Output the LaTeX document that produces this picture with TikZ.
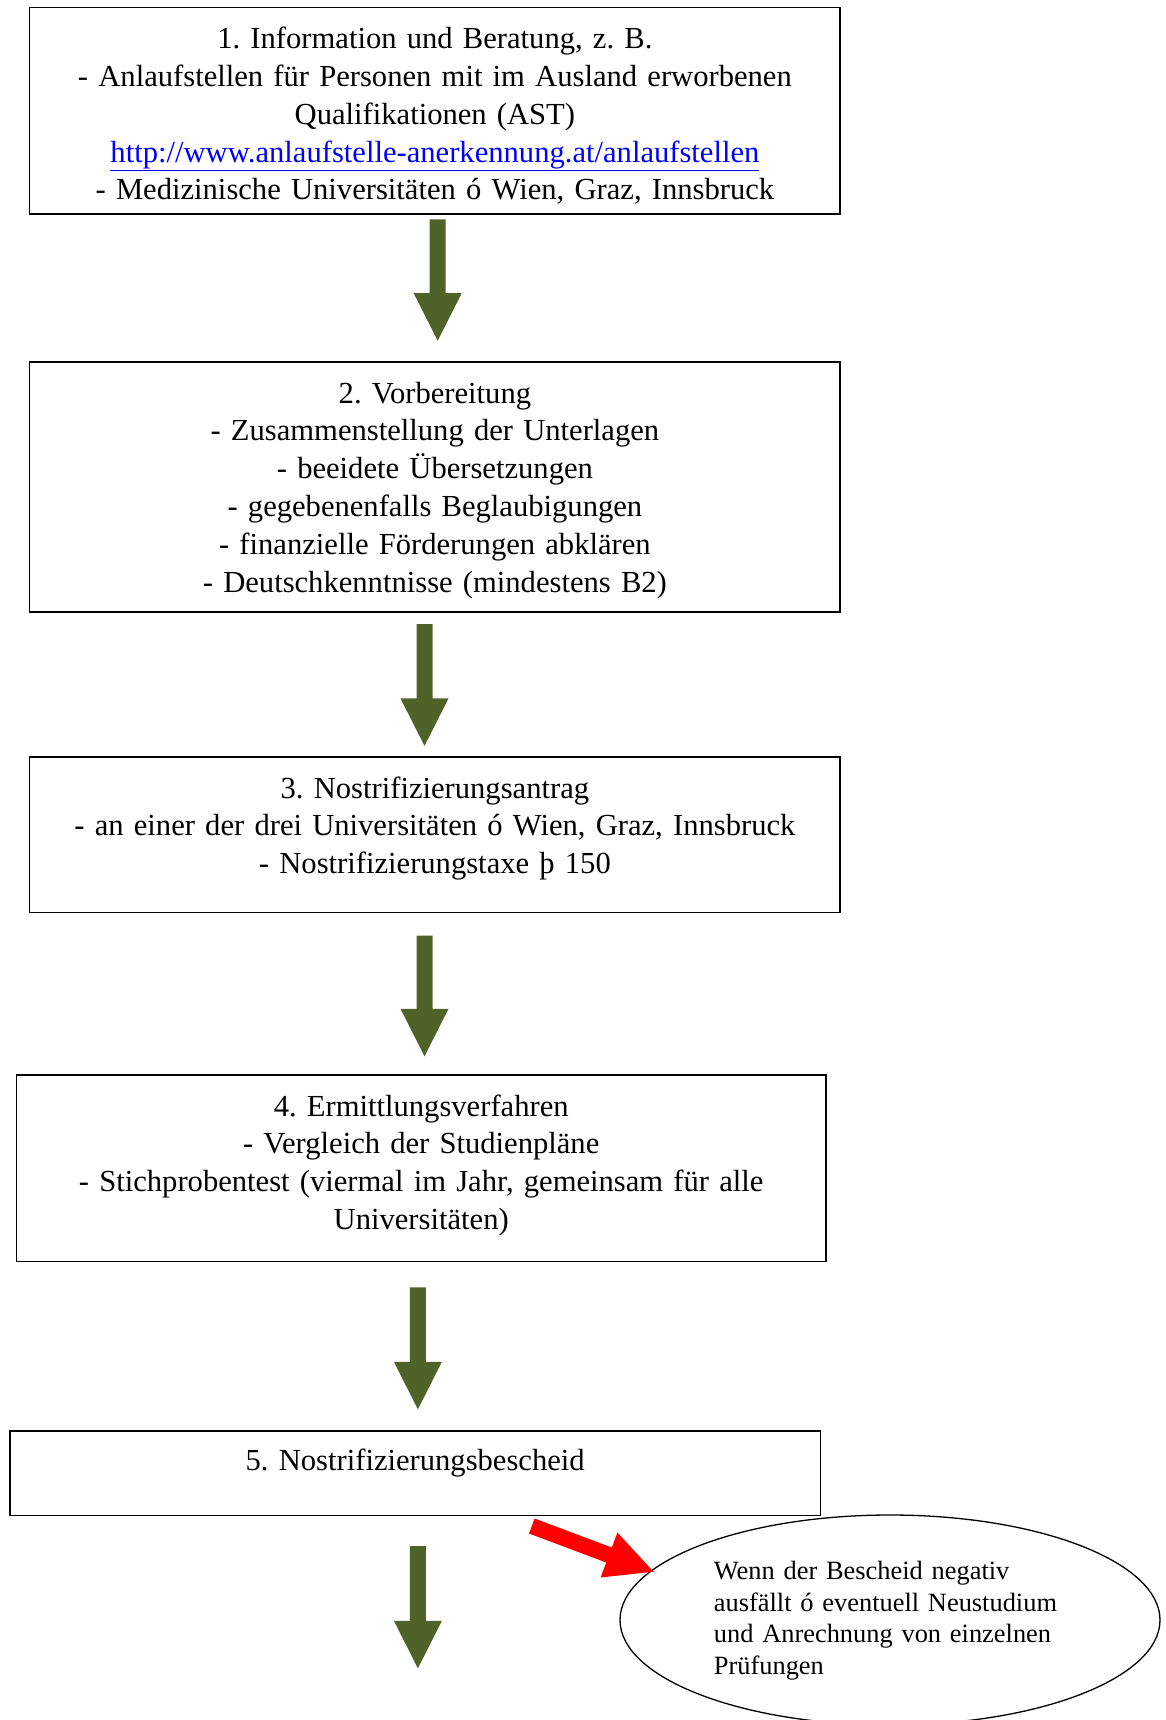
\documentclass[tikz,border=0pt]{standalone}
\usepackage{fontspec}
\setmainfont{Liberation Serif}
\usetikzlibrary{calc,shapes.geometric}
\definecolor{arrowgreen}{HTML}{4F6228}
\definecolor{linkblue}{HTML}{0000FF}
\definecolor{alertred}{HTML}{FF0000}
\frenchspacing
\newcommand\blockarrow[3]{%
  \coordinate (hb) at ($(#2)!47.5pt!(#1)$);
  \fill[#3] ($(#1)!8pt!90:(#2)$) -- ($(hb)!8pt!90:(#2)$) -- ($(hb)!24pt!90:(#2)$)
    -- (#2) -- ($(hb)!24pt!-90:(#2)$) -- ($(hb)!8pt!-90:(#2)$) -- ($(#1)!8pt!-90:(#2)$) -- cycle;
}
\tikzset{
  box/.style={draw=black, line width=1.6pt, rectangle, inner sep=0pt},
  txt/.style={font=\fontsize{30.6pt}{37.8pt}\selectfont\frenchspacing, align=center, text width=805pt, inner sep=0pt, anchor=base},
  etxt/.style={font=\fontsize{26.4pt}{31.6pt}\selectfont\frenchspacing, align=left, text width=360pt, inner sep=0pt, anchor=base west},
}
\begin{document}
\begin{tikzpicture}[x=1pt,y=-1pt]
\useasboundingbox (0,0) rectangle (1166,1720);
\fill[white] (0,0) rectangle (1166,1720);

% boxes
\node[box, minimum width=810.6pt, minimum height=206.2pt] (b1) at (434.9,110.8) {};
\node[box, minimum width=810.6pt, minimum height=250.1pt] (b2) at (434.9,487.0) {};
\node[box, minimum width=810.6pt, minimum height=155.7pt] (b3) at (434.9,834.8) {};
\node[box, minimum width=809.5pt, minimum height=186.4pt] (b4) at (421.2,1168.2) {};
\node[box, minimum width=810.6pt, minimum height=84.8pt] (b5) at (415.2,1473.1) {};

% texts
\node[txt] (t1) at (434.9,48.7) {1. Information und Beratung, z. B.\\
- Anlaufstellen für Personen mit im Ausland erworbenen\\
Qualifikationen (AST)\\
{\color{linkblue}\underline{http://www.anlaufstelle-anerkennung.at/anlaufstellen}}\\
- Medizinische Universitäten ó Wien, Graz, Innsbruck};
\node[txt] (t2) at (434.9,403.0) {2. Vorbereitung\\
- Zusammenstellung der Unterlagen\\
- beeidete Übersetzungen\\
- gegebenenfalls Beglaubigungen\\
- finanzielle Förderungen abklären\\
- Deutschkenntnisse (mindestens B2)};
\node[txt] (t3) at (434.9,798.0) {3. Nostrifizierungsantrag\\
- an einer der drei Universitäten ó Wien, Graz, Innsbruck\\
- Nostrifizierungstaxe þ 150};
\node[txt] (t4) at (421.2,1116.0) {4. Ermittlungsverfahren\\
- Vergleich der Studienpläne\\
- Stichprobentest (viermal im Jahr, gemeinsam für alle\\
Universitäten)};
\node[txt] (t5) at (415.2,1470.5) {5. Nostrifizierungsbescheid};

% ellipse
\node[draw=black, line width=1.3pt, ellipse, minimum width=540pt, minimum height=210pt, inner sep=0pt] (e) at (890,1620) {};
\node[etxt] (et) at (713.7,1579.5) {Wenn der Bescheid negativ\\
ausfällt ó eventuell Neustudium\\
und Anrechnung von einzelnen\\
Prüfungen};

% arrow endpoints
\coordinate (a1s) at (437.7,219.4);  \coordinate (a1e) at (437.7,340.7);
\coordinate (a2s) at (424.5,624.1);  \coordinate (a2e) at (424.5,745.9);
\coordinate (a3s) at (424.5,935.7);  \coordinate (a3e) at (424.5,1056.3);
\coordinate (a4s) at (417.9,1287.3); \coordinate (a4e) at (417.9,1409.3);
\coordinate (a5s) at (417.9,1546.0); \coordinate (a5e) at (417.9,1668.3);
\coordinate (r1s) at (531.8,1526.0); \coordinate (r1e) at (653.5,1571.7);

\blockarrow{a1s}{a1e}{arrowgreen}
\blockarrow{a2s}{a2e}{arrowgreen}
\blockarrow{a3s}{a3e}{arrowgreen}
\blockarrow{a4s}{a4e}{arrowgreen}
\blockarrow{a5s}{a5e}{arrowgreen}
\blockarrow{r1s}{r1e}{alertred}
\end{tikzpicture}
\end{document}
